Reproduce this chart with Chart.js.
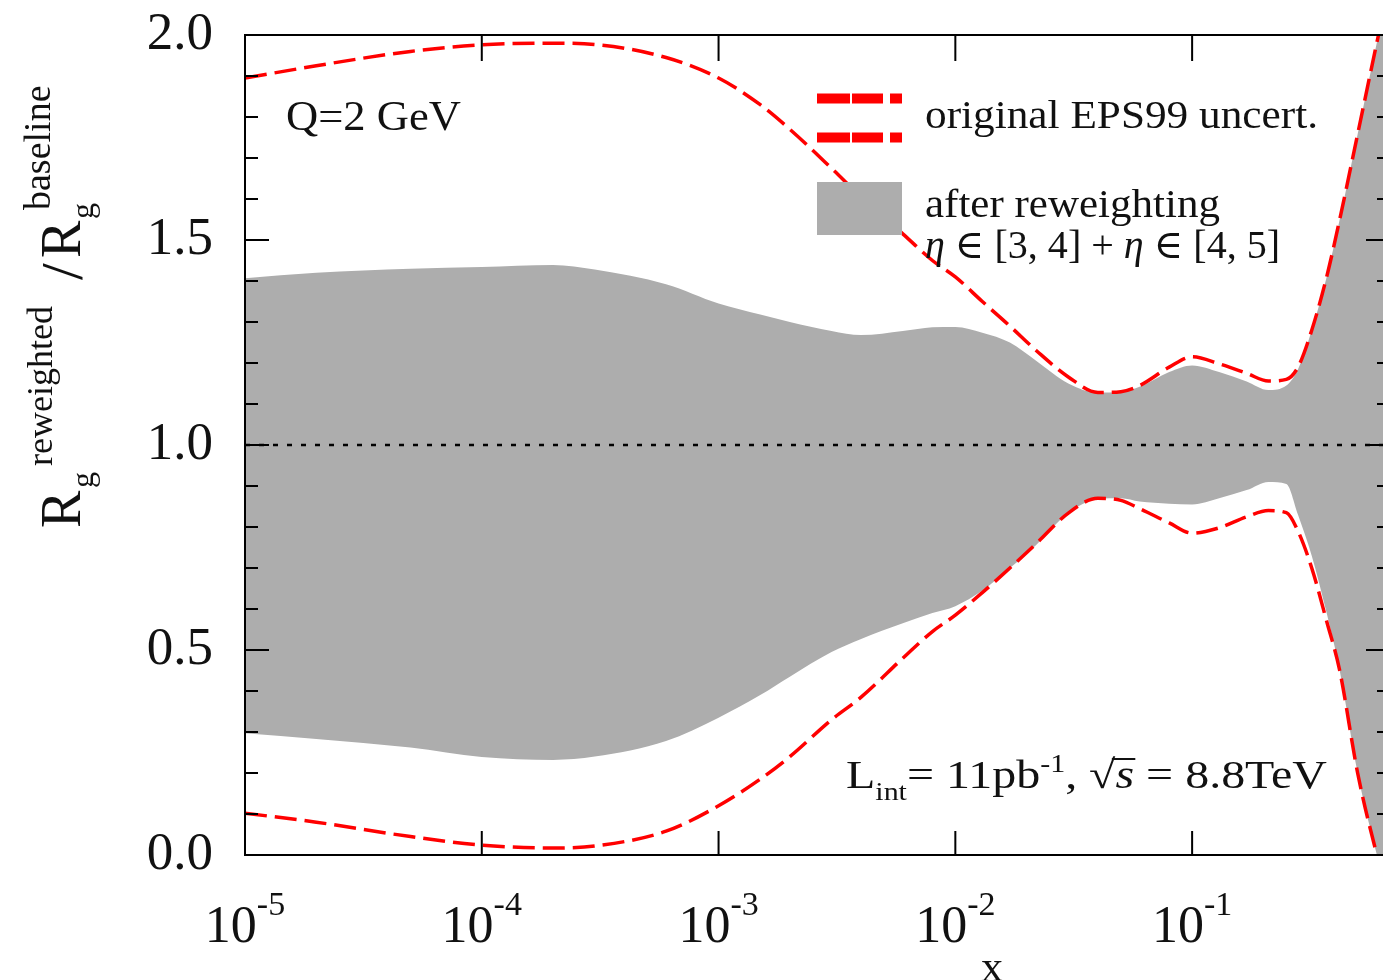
<!DOCTYPE html>
<html>
<head>
<meta charset="utf-8">
<title>Rg reweighted / baseline</title>
<script src="https://cdn.jsdelivr.net/npm/chart.js@4.4.1/dist/chart.umd.min.js"></script>
<style>
  html, body { margin: 0; padding: 0; background: #fff; overflow: hidden; }
  #wrap { position: relative; width: 1383px; height: 980px; overflow: hidden; }
  #wrap canvas { position: absolute; left: 0; top: 0; }
</style>
</head>
<body>
<div id="wrap"><canvas id="c" width="1392" height="980"></canvas></div>
<script>
// x grid shared by all curves
const xVals = [1e-5, 2e-5, 5e-5, 1e-4, 2e-4, 3e-4, 6e-4, 1e-3, 1.5e-3, 2e-3, 3e-3, 4e-3, 6e-3, 8e-3,
  0.01, 0.013, 0.017, 0.022, 0.03, 0.04, 0.05, 0.06, 0.08, 0.1, 0.13, 0.17, 0.21, 0.25, 0.28,
  0.32, 0.37, 0.42, 0.5, 0.6, 0.645];

// original EPS99 uncertainty envelope
const epsUpper = [1.895, 1.925, 1.96, 1.976, 1.98, 1.977, 1.945, 1.895, 1.83, 1.77, 1.675, 1.605, 1.515, 1.45,
  1.41, 1.35, 1.29, 1.23, 1.166, 1.128, 1.13, 1.145, 1.19, 1.215, 1.198, 1.175, 1.156, 1.16, 1.19,
  1.28, 1.41, 1.55, 1.758, 1.976, 2.06];
const epsLower = [0.102, 0.08, 0.045, 0.024, 0.017, 0.022, 0.058, 0.12, 0.185, 0.24, 0.33, 0.385, 0.48, 0.545,
  0.585, 0.64, 0.70, 0.76, 0.834, 0.87, 0.865, 0.845, 0.81, 0.785, 0.798, 0.825, 0.84, 0.835, 0.79,
  0.70, 0.57, 0.45, 0.2, 0.005, -0.06];

// band after reweighting
const rwUpper = [1.407, 1.42, 1.43, 1.434, 1.439, 1.428, 1.392, 1.345, 1.318, 1.30, 1.278, 1.268, 1.278, 1.287,
  1.288, 1.274, 1.25, 1.205, 1.15, 1.128, 1.13, 1.142, 1.178, 1.194, 1.178, 1.155, 1.134, 1.145, 1.185,
  1.28, 1.41, 1.55, 1.758, 1.976, 2.06];
const rwLower = [0.297, 0.283, 0.262, 0.239, 0.232, 0.24, 0.278, 0.335, 0.39, 0.435, 0.495, 0.527, 0.565, 0.59,
  0.607, 0.645, 0.70, 0.757, 0.834, 0.868, 0.87, 0.862, 0.857, 0.855, 0.87, 0.89, 0.91, 0.905, 0.83,
  0.73, 0.59, 0.45, 0.2, 0.005, -0.06];

const xTickValues = [1e-5, 1e-4, 1e-3, 1e-2, 1e-1];
const xMin = 1e-5, xMax = 0.685;
const refLine = 1.0;

const SERIF = '"Liberation Serif", "DejaVu Serif", serif';
const INK = '#111';
const RED = '#ff0000';
const GREY = '#adadad';

const pts = arr => xVals.map((x, i) => ({ x: x, y: arr[i] }));
const isHalf = v => Math.abs(v * 2 - Math.round(v * 2)) < 1e-6;
const fontOf = r => (r.it ? 'italic ' : '') + r.s + 'px ' + SERIF;

// draw a row of text pieces (sub/superscripts via dy), optionally stretched to a width
function drawRuns(ctx, runs, x, base, width) {
  let total = 0;
  runs.forEach(r => { ctx.font = fontOf(r); r.w = ctx.measureText(r.t).width; total += r.w; });
  const sx = width ? width / total : 1;
  ctx.save();
  ctx.translate(x, base);
  ctx.scale(sx, 1);
  let cx = 0;
  runs.forEach(r => {
    ctx.font = fontOf(r);
    ctx.fillText(r.t, cx, r.dy || 0);
    if (r.over) ctx.fillRect(cx - 3, -r.over, r.w + 4, 2);
    cx += r.w;
  });
  ctx.restore();
}

// text on the y title, rotated a quarter turn
function rotText(ctx, str, size, u, v) {
  ctx.save();
  ctx.translate(80 + v, 528 - u);
  ctx.rotate(-Math.PI / 2);
  ctx.font = size + 'px ' + SERIF;
  ctx.fillText(str, 0, 0);
  ctx.restore();
}

const framePlugin = {
  id: 'frame',
  afterDatasetsDraw(chart) {
    const { ctx, chartArea: a, scales: { x, y } } = chart;
    ctx.save();
    ctx.strokeStyle = '#000';
    ctx.lineWidth = 2;
    ctx.strokeRect(a.left, a.top, a.right - a.left, a.bottom - a.top);
    ctx.beginPath();
    y.ticks.forEach(t => {
      const py = y.getPixelForValue(t.value);
      const len = isHalf(t.value) ? 24 : 13;
      ctx.moveTo(a.left, py); ctx.lineTo(a.left + len, py);
      ctx.moveTo(a.right, py); ctx.lineTo(a.right - len, py);
    });
    x.ticks.forEach(t => {
      const px = x.getPixelForValue(t.value);
      ctx.moveTo(px, a.bottom); ctx.lineTo(px, a.bottom - 24);
      ctx.moveTo(px, a.top); ctx.lineTo(px, a.top + 26);
    });
    ctx.stroke();
    ctx.restore();
  },
  afterDraw(chart) {
    const { ctx, scales: { x } } = chart;
    ctx.save();
    ctx.fillStyle = INK;
    ctx.textBaseline = 'alphabetic';
    ctx.textAlign = 'left';

    // decade labels 10^n
    x.ticks.forEach(t => {
      const px = x.getPixelForValue(t.value);
      const n = Math.round(Math.log10(t.value));
      const runs = [{ t: '10', s: 52 }, { t: String(n), s: 34, dy: -27 }];
      let w = 0;
      runs.forEach(r => { ctx.font = fontOf(r); w += ctx.measureText(r.t).width; });
      drawRuns(ctx, runs, px - w / 2, 942);
    });
    ctx.font = '44px ' + SERIF;
    ctx.textAlign = 'center';
    ctx.fillText('x', 992, 981);
    ctx.textAlign = 'left';

    // y title: R_g^reweighted / R_g^baseline
    rotText(ctx, 'R', 56, 0, 0);
    rotText(ctx, 'g', 32, 40, 13);
    rotText(ctx, 'reweighted', 36, 62, -28);
    rotText(ctx, '/', 60, 248, 2);
    rotText(ctx, 'R', 56, 270, 0);
    rotText(ctx, 'g', 32, 309, 13);
    rotText(ctx, 'baseline', 38, 318, -30);

    drawRuns(ctx, [{ t: 'Q=2 GeV', s: 42 }], 286, 130, 175);

    // key
    ctx.fillStyle = RED;
    [98.5, 137.5].forEach(cy => {
      ctx.fillRect(817, cy - 5, 33, 10);
      ctx.fillRect(852, cy - 5, 31, 10);
      ctx.fillRect(890, cy - 5, 12, 10);
    });
    ctx.fillStyle = GREY;
    ctx.fillRect(817, 182, 85, 53);
    ctx.fillStyle = INK;
    drawRuns(ctx, [{ t: 'original EPS99 uncert.', s: 40 }], 925, 128, 393);
    drawRuns(ctx, [{ t: 'after reweighting', s: 40 }], 925, 217, 295);
    drawRuns(ctx, [
      { t: 'η', s: 40, it: true }, { t: ' ∈ [3, 4] + ', s: 40 },
      { t: 'η', s: 40, it: true }, { t: ' ∈ [4, 5]', s: 40 }
    ], 925, 258, 355);

    drawRuns(ctx, [
      { t: 'L', s: 40 }, { t: 'int', s: 25, dy: 12 }, { t: '= 11pb', s: 40 },
      { t: '-1', s: 25, dy: -16 }, { t: ', ', s: 40 }, { t: '√', s: 40 },
      { t: 's', s: 40, it: true, over: 30 }, { t: ' = 8.8TeV', s: 40 }
    ], 846, 788, 481);
    ctx.restore();
  }
};

const noLine = 'rgba(0,0,0,0)';
const redDash = [22, 8];

new Chart(document.getElementById('c'), {
  type: 'line',
  data: {
    datasets: [
      { label: 'EPS99 upper', data: pts(epsUpper), borderColor: RED, borderWidth: 3.5, borderDash: redDash,
        pointRadius: 0, fill: false, cubicInterpolationMode: 'monotone', order: 1 },
      { label: 'EPS99 lower', data: pts(epsLower), borderColor: RED, borderWidth: 3.5, borderDash: redDash,
        pointRadius: 0, fill: false, cubicInterpolationMode: 'monotone', order: 1 },
      { label: 'ratio 1', data: [{ x: xMin, y: refLine }, { x: xMax, y: refLine }], borderColor: '#000',
        borderWidth: 2.5, borderDash: [5, 9], pointRadius: 0, fill: false, order: 2 },
      { label: 'reweighted upper', data: pts(rwUpper), borderColor: noLine, borderWidth: 0, backgroundColor: GREY,
        pointRadius: 0, fill: '+1', cubicInterpolationMode: 'monotone', order: 3 },
      { label: 'reweighted lower', data: pts(rwLower), borderColor: noLine, borderWidth: 0,
        pointRadius: 0, fill: false, cubicInterpolationMode: 'monotone', order: 4 }
    ]
  },
  options: {
    responsive: false,
    animation: false,
    events: [],
    layout: { padding: { left: 0, top: 35, right: 2, bottom: 0 } },
    plugins: { legend: { display: false }, tooltip: { enabled: false } },
    scales: {
      x: {
        type: 'logarithmic', min: xMin, max: xMax,
        grid: { display: false, drawTicks: false },
        border: { display: false },
        ticks: { display: false },
        afterBuildTicks: s => { s.ticks = xTickValues.map(v => ({ value: v })); },
        afterFit: s => { s.height = 125; s.paddingLeft = 0; s.paddingRight = 0; }
      },
      y: {
        min: 0, max: 2,
        grid: { display: false, drawTicks: false },
        border: { display: false },
        ticks: {
          stepSize: 0.1, autoSkip: false, padding: 32, color: INK,
          font: { family: SERIF, size: 53 },
          callback: v => isHalf(v) ? v.toFixed(1) : ''
        },
        afterFit: s => { s.width = 245; s.paddingTop = 0; s.paddingBottom = 0; }
      }
    }
  },
  plugins: [framePlugin]
});
</script>
</body>
</html>
